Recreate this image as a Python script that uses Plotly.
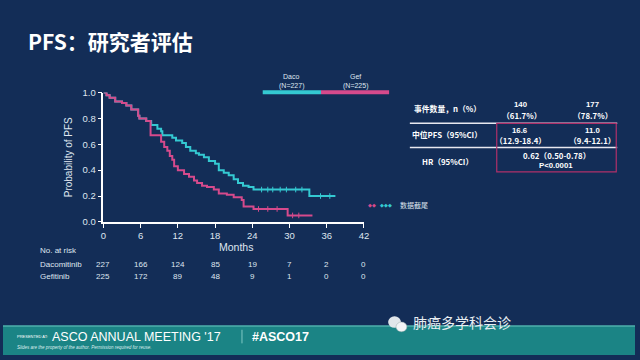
import plotly.graph_objects as go

# ---- data ----
months_ticks = [0, 6, 12, 18, 24, 30, 36, 42]
y_ticks = [0.0, 0.2, 0.4, 0.6, 0.8, 1.0]

daco_t = [0, 0.5, 1.0, 1.9, 3.0, 3.7, 4.5, 5.6, 5.8, 6.9, 7.7, 8.7, 9.3, 9.5, 11.1, 11.7, 12.7, 13.3, 14.0,
          14.9, 15.4, 16.2, 17.0, 18.0, 18.6, 19.4, 20.2, 21.0, 21.7, 22.5, 23.4, 24.2, 33.2, 37.4]
daco_s = [1.0, 0.98, 0.96, 0.93, 0.92, 0.90, 0.87, 0.82, 0.80, 0.78, 0.75, 0.72, 0.70, 0.67, 0.65, 0.63, 0.61,
          0.58, 0.55, 0.53, 0.52, 0.50, 0.47, 0.45, 0.40, 0.38, 0.36, 0.33, 0.30, 0.28, 0.27, 0.25, 0.20, 0.20]

gef_t = [0, 0.5, 1.0, 1.9, 3.0, 3.7, 4.5, 5.6, 5.8, 6.9, 7.6, 9.3, 9.8, 10.3, 10.7, 11.1, 11.4, 12.0, 13.0,
         13.8, 14.6, 15.1, 15.9, 16.7, 17.8, 18.6, 19.9, 21.0, 22.3, 22.6, 24.2, 29.7, 33.7]
gef_s = [1.0, 0.98, 0.96, 0.93, 0.92, 0.90, 0.87, 0.82, 0.80, 0.78, 0.67, 0.62, 0.58, 0.55, 0.51, 0.48, 0.43,
         0.40, 0.37, 0.35, 0.32, 0.30, 0.28, 0.27, 0.25, 0.22, 0.21, 0.19, 0.17, 0.12, 0.10, 0.05, 0.05]

daco_cens = [25.5, 26.5, 27.3, 28.5, 29.5, 31.0, 32.0, 35.0, 36.5]
gef_cens = [25.0, 26.5, 28.0, 30.5, 31.5]

risk_daco = [227, 166, 124, 85, 19, 7, 2, 0]
risk_gef = [225, 172, 89, 48, 9, 1, 0, 0]

CYAN = "#34c9d2"
PINK = "#d64a8c"
BG = "#132d57"
TXT = "#dfe6f0"


def step_at(ts, ss, x):
    v = ss[0]
    for t, s in zip(ts, ss):
        if t <= x:
            v = s
    return v


fig = go.Figure()
fig.add_trace(go.Scatter(x=daco_t, y=daco_s, mode="lines", line=dict(color=CYAN, width=2, shape="hv"),
                         showlegend=False, hoverinfo="skip"))
fig.add_trace(go.Scatter(x=gef_t, y=gef_s, mode="lines", line=dict(color=PINK, width=2, shape="hv"),
                         showlegend=False, hoverinfo="skip"))
fig.add_trace(go.Scatter(x=daco_cens, y=[step_at(daco_t, daco_s, x) for x in daco_cens], mode="markers",
                         marker=dict(symbol="line-ns-open", size=4, color=CYAN, line=dict(color=CYAN, width=1)),
                         showlegend=False, hoverinfo="skip"))
fig.add_trace(go.Scatter(x=gef_cens, y=[step_at(gef_t, gef_s, x) for x in gef_cens], mode="markers",
                         marker=dict(symbol="line-ns-open", size=4, color=PINK, line=dict(color=PINK, width=1)),
                         showlegend=False, hoverinfo="skip"))

W, H = 640, 360
x0, x1 = 101.7, 365.5
yb, yt = 222.7, 89.3

fig.update_layout(
    width=W, height=H, margin=dict(l=0, r=0, t=0, b=0),
    paper_bgcolor=BG, plot_bgcolor=BG,
    font=dict(family="Liberation Sans, Arial, sans-serif", color=TXT, size=10),
    xaxis=dict(domain=[x0 / W, x1 / W], range=[0, 42], tickvals=months_ticks, showgrid=False, zeroline=False,
               showline=True, linecolor="white", linewidth=1.5, ticks="outside", tickcolor="white", ticklen=4,
               tickfont=dict(size=9.5, color=TXT), anchor="y"),
    yaxis=dict(domain=[1 - yb / H, 1 - yt / H], range=[0, 1], tickvals=y_ticks, tickformat=".1f", showgrid=False,
               zeroline=False, showline=True, linecolor="white", linewidth=1.5, ticks="outside", tickcolor="white",
               ticklen=4, tickfont=dict(size=9.5, color=TXT), anchor="x",
               title=dict(text="Probability of PFS", font=dict(size=10, color=TXT), standoff=8)),
)

ann = []


def A(x, y, text, size=10, color=TXT, xanchor="center", bold=False, family=None):
    d = dict(x=x / W, y=1 - y / H, xref="paper", yref="paper", text=f"<b>{text}</b>" if bold else text,
             showarrow=False, xanchor=xanchor, yanchor="middle", font=dict(size=size, color=color))
    if family:
        d["font"]["family"] = family
    ann.append(d)


CJK = "Noto Sans CJK SC"
A(23, 36, "PFS：研究者评估", size=21, color="white", xanchor="left", bold=True, family=CJK)

# x title
A(236, 249, "Months", size=10.5)

# number at risk
A(35, 252, "No. at risk", size=8, xanchor="left")
A(35, 267, "Dacomitinib", size=8, xanchor="left")
A(35, 279, "Gefitinib", size=8, xanchor="left")
px = lambda m: x0 + (x1 - x0) * m / 42
for m, a, b in zip(months_ticks, risk_daco, risk_gef):
    A(px(m), 267, str(a), size=8)
    A(px(m), 279, str(b), size=8)

# legend bars
shapes = []
shapes.append(dict(type="line", xref="paper", yref="paper", x0=263 / W, x1=322 / W, y0=1 - 89 / H, y1=1 - 89 / H,
                   line=dict(color=CYAN, width=4)))
shapes.append(dict(type="line", xref="paper", yref="paper", x0=322 / W, x1=391 / W, y0=1 - 89 / H, y1=1 - 89 / H,
                   line=dict(color=PINK, width=4)))
A(292, 73, "Daco", size=7)
A(292, 83, "(N=227)", size=7)
A(357, 73, "Gef", size=7)
A(357, 83, "(N=225)", size=7)

# censor legend
A(380, 205, "◆◆", size=5, color=PINK, xanchor="right")
A(380, 205, "◆◆◆", size=5, color=CYAN, xanchor="left")
A(400, 205, "数据截尾", size=7, xanchor="left", family=CJK)

# table
TW = "white"
TS = 7.8
A(450, 106, "事件数量，n（%）", size=TS, color=TW, bold=True, family=CJK)
A(525, 102, "140", size=TS, color=TW, bold=True)
A(525, 113, "（61.7%）", size=TS, color=TW, bold=True, family=CJK)
A(597, 102, "177", size=TS, color=TW, bold=True)
A(597, 113, "（78.7%）", size=TS, color=TW, bold=True, family=CJK)
A(450, 133, "中位PFS（95%CI）", size=TS, color=TW, bold=True, family=CJK)
A(524, 128, "16.6", size=TS, color=TW, bold=True)
A(524, 139, "（12.9-18.4）", size=TS, color=TW, bold=True, family=CJK)
A(597, 128, "11.0", size=TS, color=TW, bold=True)
A(597, 139, "（9.4-12.1）", size=TS, color=TW, bold=True, family=CJK)
A(450, 160, "HR（95%CI）", size=TS, color=TW, bold=True, family=CJK)
A(560, 154, "0.62（0.50-0.78）", size=TS, color=TW, bold=True, family=CJK)
A(560, 165, "P<0.0001", size=TS, color=TW, bold=True)

for yy in (121, 146):
    shapes.append(dict(type="line", xref="paper", yref="paper", x0=412 / W, x1=622 / W, y0=1 - yy / H,
                       y1=1 - yy / H, line=dict(color="#e8e8f0", width=1.5)))
shapes.append(dict(type="rect", xref="paper", yref="paper", x0=500 / W, x1=621 / W, y0=1 - 171 / H,
                   y1=1 - 121 / H, line=dict(color="#b0306a", width=1.2)))

# footer
shapes.append(dict(type="rect", xref="paper", yref="paper", x0=0, x1=1, y0=0, y1=1 - 330 / H,
                   fillcolor="#1b8485", line=dict(width=0), layer="below"))
shapes.append(dict(type="line", xref="paper", yref="paper", x0=0, x1=1, y0=1 - 330 / H, y1=1 - 330 / H,
                   line=dict(color="#4fb0ad", width=1.5)))
shapes.append(dict(type="line", xref="paper", yref="paper", x0=242 / W, x1=242 / W, y0=1 - 334 / H,
                   y1=1 - 348 / H, line=dict(color="#7fc8c5", width=1)))
A(12, 341, "PRESENTED AT:", size=4, color="white", xanchor="left")
A(48, 341, "ASCO ANNUAL MEETING '17", size=12.5, color="white", xanchor="left")
A(250, 341, "#ASCO17", size=12.5, color="white", xanchor="left", bold=True)
A(12, 352, "<i>Slides are the property of the author. Permission required for reuse.</i>", size=4.5,
  color="#dfeeee", xanchor="left")
A(413, 326, "肺癌多学科会诊", size=14, color="#e8eef2", xanchor="left", family=CJK)
shapes.append(dict(type="circle", xref="paper", yref="paper", x0=390 / W, x1=403 / W, y0=1 - 332 / H,
                   y1=1 - 320 / H, fillcolor="#e0e6ea", line=dict(width=0)))
shapes.append(dict(type="circle", xref="paper", yref="paper", x0=398 / W, x1=409 / W, y0=1 - 336 / H,
                   y1=1 - 326 / H, fillcolor="#f2f4f6", line=dict(color="#9aa", width=0.5)))

fig.update_layout(annotations=ann, shapes=shapes)
fig.write_html("out.html")
